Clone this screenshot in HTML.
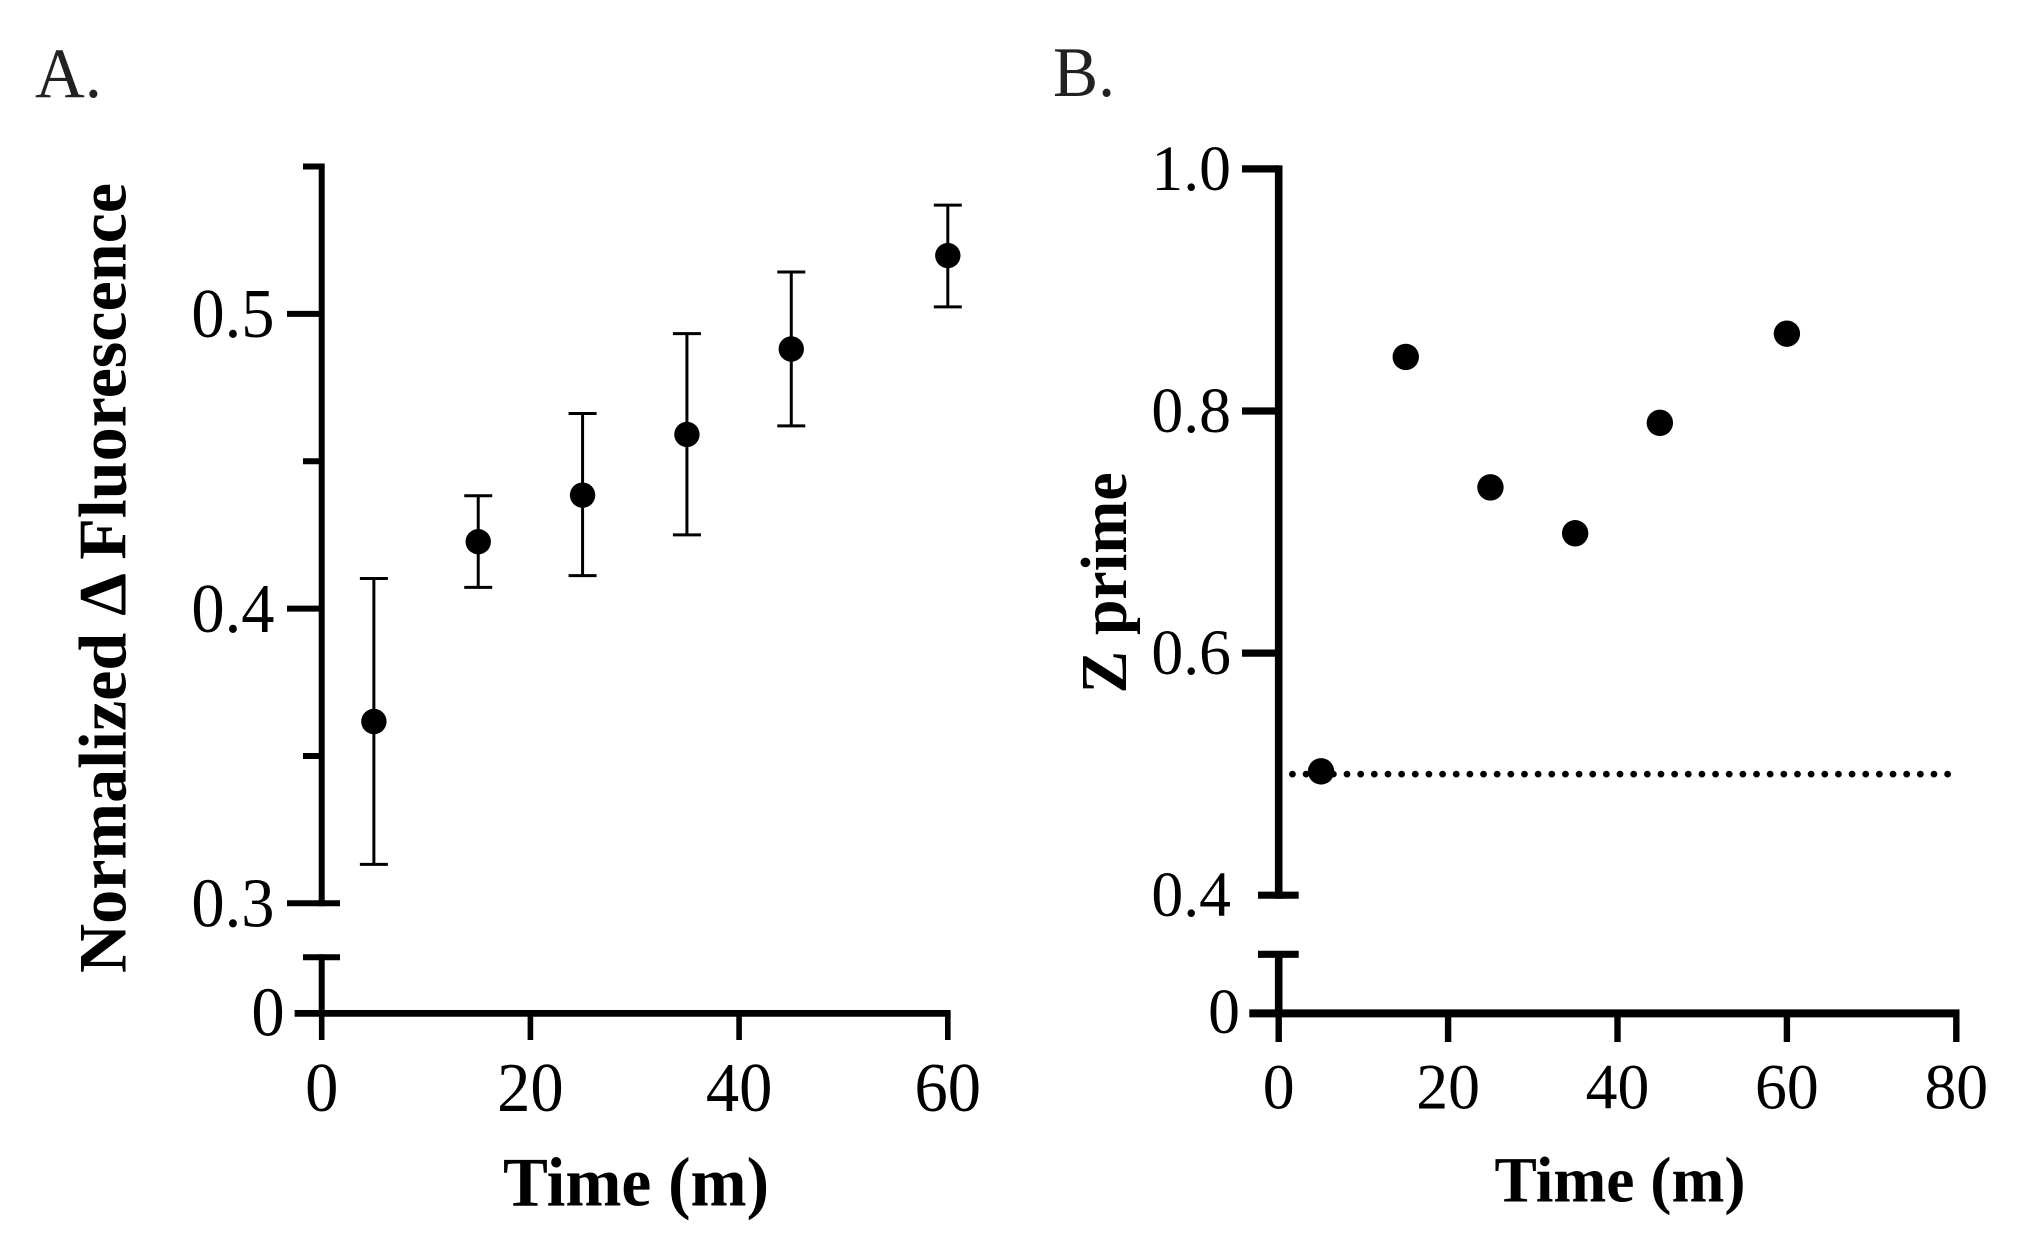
<!DOCTYPE html>
<html lang="en">
<head>
<meta charset="utf-8">
<title>Normalized fluorescence and Z prime over time</title>
<style>
html,body{margin:0;padding:0;background:#fff;}
svg{display:block;font-family:"Liberation Serif","DejaVu Serif",serif;}
</style>
</head>
<body>
<svg id="figure" xmlns="http://www.w3.org/2000/svg" width="2022" height="1259" viewBox="0 0 2022 1259">
  <rect x="0" y="0" width="2022" height="1259" fill="#fff"/>
  <text x="35" y="97" font-size="71" fill="#222" textLength="67" lengthAdjust="spacingAndGlyphs">A.</text>
  <text x="1053" y="96" font-size="71" fill="#222" textLength="62" lengthAdjust="spacingAndGlyphs">B.</text>
  <text transform="translate(125.7,973) rotate(-90)" font-size="68" font-weight="bold" textLength="790" lengthAdjust="spacingAndGlyphs">Normalized Δ Fluorescence</text>
  <text x="503" y="1205.5" font-size="70" font-weight="bold" textLength="266" lengthAdjust="spacingAndGlyphs">Time (m)</text>
  <text transform="translate(1125.8,693.4) rotate(-90)" font-size="66" font-weight="bold" textLength="221" lengthAdjust="spacingAndGlyphs">Z prime</text>
  <text x="1494.5" y="1201.5" font-size="65" font-weight="bold" textLength="251" lengthAdjust="spacingAndGlyphs">Time (m)</text>
  <g id="panel-a"></g>
  <g id="panel-b"></g>
</svg>
<script>
// Panel A data
const timesA = [5, 15, 25, 35, 45, 60];
const meansA = [0.3617, 0.4227, 0.4385, 0.4591, 0.4881, 0.5198];
const errLowA = [0.3132, 0.4072, 0.4112, 0.4250, 0.4620, 0.5024];
const errHighA = [0.4102, 0.4383, 0.4662, 0.4933, 0.5142, 0.5369];
const xTicksA = [0, 20, 40, 60];
const yMajorTicksA = [0.3, 0.4, 0.5];
const yMinorTicksA = [0.35, 0.45, 0.55];
const yLabelsA = ["0.3", "0.4", "0.5"];

// Panel B data
const timesB = [5, 15, 25, 35, 45, 60];
const zPrimeB = [0.5023, 0.8447, 0.7369, 0.6990, 0.7902, 0.8639];
const thresholdB = [0.5];
const thresholdSpanB = [1.62, 79.2];
const xTicksB = [0, 20, 40, 60, 80];
const yTicksB = [0.4, 0.6, 0.8, 1.0];
const yLabelsB = ["0.4", "0.6", "0.8", "1.0"];

const NS = "http://www.w3.org/2000/svg";
const zeroY = 1013.4;

function xA(v) { return 321.7 + v * 10.435; }
function yA(v) { return 903.3 - (v - 0.3) * 2947; }
function xB(v) { return 1278.7 + v * 8.47; }
function yB(v) { return 895.2 - (v - 0.4) * 1210.5; }

function line(parent, x1, y1, x2, y2, w, name) {
  const el = document.createElementNS(NS, "line");
  el.setAttribute("x1", x1);
  el.setAttribute("y1", y1);
  el.setAttribute("x2", x2);
  el.setAttribute("y2", y2);
  el.setAttribute("stroke", "#000");
  el.setAttribute("stroke-width", w);
  
  
  parent.appendChild(el);
  return el;
}

function dot(parent, cx, cy, r, name) {
  const el = document.createElementNS(NS, "circle");
  el.setAttribute("cx", cx);
  el.setAttribute("cy", cy);
  el.setAttribute("r", r);
  el.setAttribute("fill", "#000");
  
  
  parent.appendChild(el);
  return el;
}

function label(parent, str, x, y, size, sx, anchor, name) {
  const el = document.createElementNS(NS, "text");
  el.setAttribute("transform", "translate(" + x + "," + y + ") scale(" + sx + ",1)");
  el.setAttribute("font-size", size);
  el.setAttribute("text-anchor", anchor);
  el.setAttribute("fill", "#000");
  
  
  el.textContent = str;
  parent.appendChild(el);
  return el;
}

// ---- Panel A ----
const gA = document.getElementById("panel-a");
line(gA, xA(0), yA(0.55) - 3, xA(0), yA(0.3) + 3, 6, "panel-a-y-axis-upper");
line(gA, xA(0), 954.3, xA(0), zeroY, 6, "panel-a-y-axis-lower");
line(gA, 303, 957.3, 340, 957.3, 6, "panel-a-axis-break-cap");
line(gA, 294.6, zeroY, xA(60) + 2.8, zeroY, 6.8, "panel-a-x-axis");
label(gA, "0", 284.6, 1035.7, 70, 0.95, "end", "panel-a-y-tick-label-zero");

yMajorTicksA.forEach(function (v, i) {
  const y = yA(v);
  const right = v === 0.3 ? 340 : xA(0);
  line(gA, 287, y, right, y, 6, "panel-a-y-tick-major");
  label(gA, yLabelsA[i], 274.5, y + 23.3, 70, 0.95, "end", "panel-a-y-tick-label");
});
yMinorTicksA.forEach(function (v) {
  line(gA, 303, yA(v), xA(0), yA(v), 6, "panel-a-y-tick-minor");
});
xTicksA.forEach(function (v) {
  line(gA, xA(v), zeroY, xA(v), 1040, 5.6, "panel-a-x-tick");
  label(gA, String(v), xA(v), 1111, 70, 0.95, "middle", "panel-a-x-tick-label");
});
timesA.forEach(function (t, i) {
  const x = xA(t);
  line(gA, x, yA(errLowA[i]), x, yA(errHighA[i]), 3, "panel-a-error-bar");
  line(gA, x - 14, yA(errHighA[i]), x + 14, yA(errHighA[i]), 3, "panel-a-error-cap-high");
  line(gA, x - 14, yA(errLowA[i]), x + 14, yA(errLowA[i]), 3, "panel-a-error-cap-low");
  dot(gA, x, yA(meansA[i]), 12.7, "panel-a-point");
});

// ---- Panel B ----
const gB = document.getElementById("panel-b");
line(gB, xB(0), yB(1.0) - 3.5, xB(0), yB(0.4) + 3.5, 7.6, "panel-b-y-axis-upper");
line(gB, xB(0), 951, xB(0), zeroY, 7.6, "panel-b-y-axis-lower");
line(gB, 1258, 954.3, 1298.7, 954.3, 7.2, "panel-b-axis-break-cap");
line(gB, 1249.3, zeroY, xB(80) + 3.2, zeroY, 8, "panel-b-x-axis");
label(gB, "0", 1240, 1033, 65, 0.98, "end", "panel-b-y-tick-label-zero");

yTicksB.forEach(function (v, i) {
  const y = yB(v);
  const left = v === 0.4 ? 1258 : 1242;
  const right = v === 0.4 ? 1298.7 : xB(0);
  line(gB, left, y, right, y, 7.2, "panel-b-y-tick");
  label(gB, yLabelsB[i], 1231, y + 21, 65, 0.98, "end", "panel-b-y-tick-label");
});
xTicksB.forEach(function (v) {
  line(gB, xB(v), zeroY, xB(v), 1042, 6.4, "panel-b-x-tick");
  label(gB, String(v), xB(v), 1108.3, 65, 0.98, "middle", "panel-b-x-tick-label");
});
const dotted = line(gB, xB(thresholdSpanB[0]), yB(thresholdB[0]), xB(thresholdSpanB[1]), yB(thresholdB[0]), 6.8, "panel-b-threshold-line");
dotted.setAttribute("stroke-linecap", "round");
dotted.setAttribute("stroke-dasharray", "0 13.65");
timesB.forEach(function (t, i) {
  dot(gB, xB(t), yB(zPrimeB[i]), 13.2, "panel-b-point");
});
</script>
</body>
</html>
